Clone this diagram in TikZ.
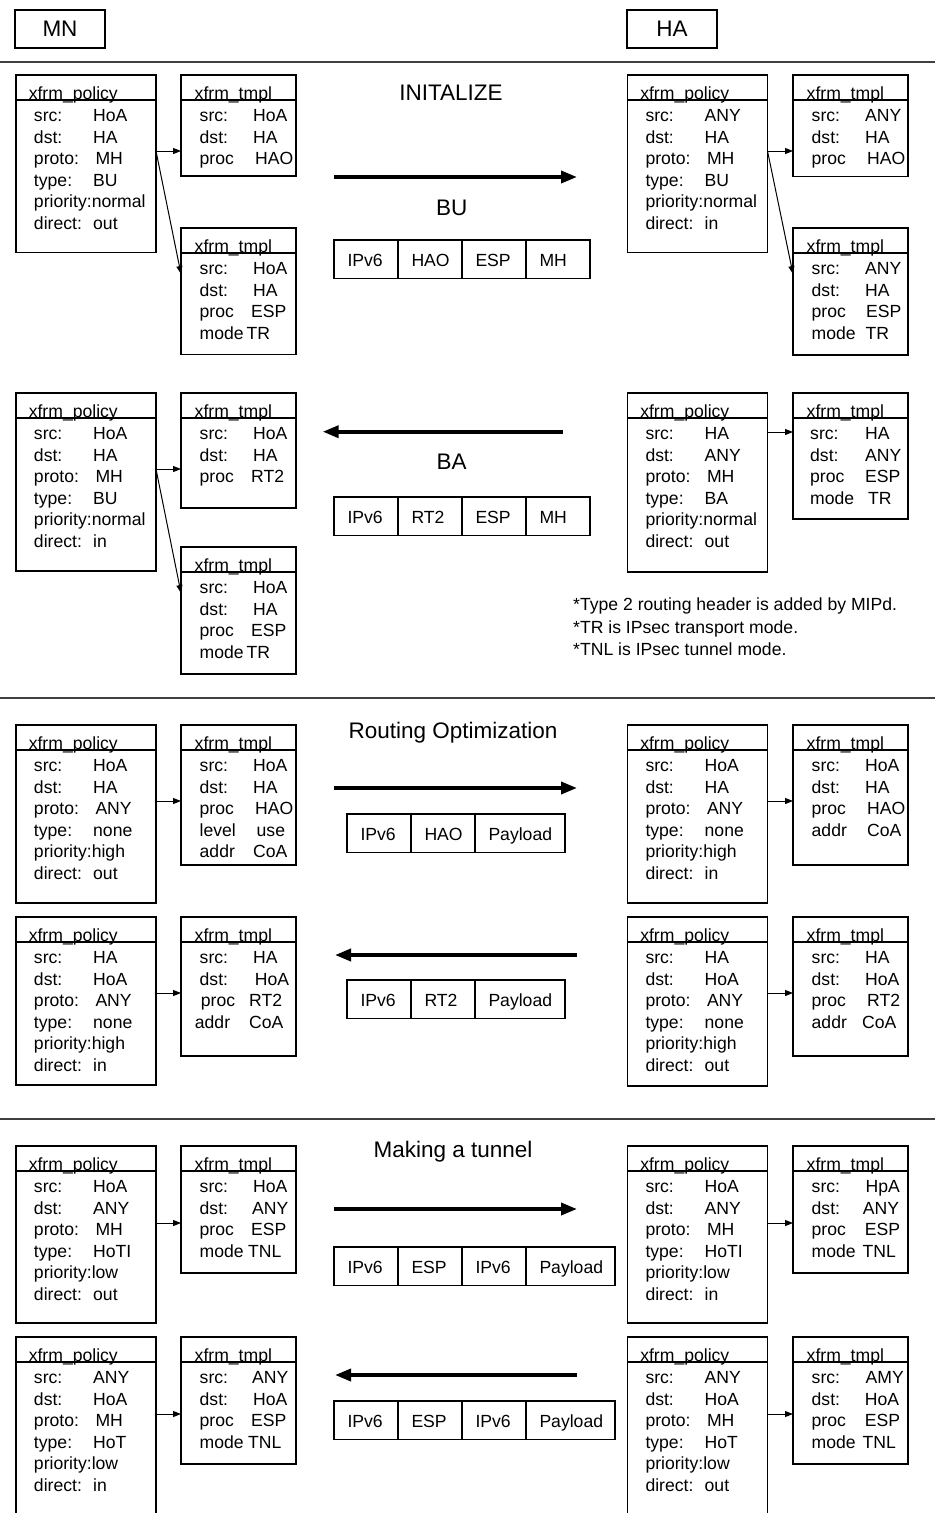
\documentclass[tikz,border=0pt]{standalone}
\usepackage{fontspec}
\setmainfont{Liberation Sans}
\usetikzlibrary{calc,arrows.meta}
\newcommand\bodyfont{\fontsize{17.6pt}{21.6pt}\selectfont}
\newcommand\headfont{\fontsize{22.5pt}{27pt}\selectfont}
\tikzset{
  frame/.style={draw=black, line width=1.2pt, inner sep=0pt, outer sep=0pt, rectangle, anchor=north west},
  txt/.style={anchor=base west, inner sep=0pt, font=\bodyfont},
  head/.style={anchor=base, inner sep=0pt, font=\headfont},
  bigarrow/.style={line width=3.6pt, -{Triangle[length=16pt,width=12pt]}},
  link/.style={line width=1pt, -{Triangle[length=8pt,width=6pt]}},
  rule/.style={line width=1.2pt, draw=black!75},
  pcell/.style={draw=black, line width=1.2pt, anchor=north west, inner sep=0pt, outer sep=0pt,
    minimum height=38.5pt, text height=14pt, text depth=0pt, font=\bodyfont},
  namebox/.style={draw=black, line width=1.2pt, anchor=north west, inner sep=0pt, outer sep=0pt,
    minimum width=90pt, minimum height=38pt, font=\headfont},
}
% box with a title bar: name, x, y, width, height, title, title indent
\newcommand\xbox[7]{%
  \node[frame, minimum width=#4pt, minimum height=#5pt] (#1) at (#2,#3) {};
  \draw[line width=1.2pt] ($(#1.north west)+(0,25)$) -- ($(#1.north east)+(0,25)$);
  \node[txt] (#1-title) at ($(#1.north west)+(#7,24.5)$) {#6};
}
% rows of a box: label indent / value indent / label / value
\newcommand\xrows[2]{%
  \foreach \lx/\vx/\lab/\val [count=\n] in {#2} {
    \pgfmathsetmacro\ry{46.5+(\n-1)*21.6}
    \node[txt] (#1-l\n) at ($(#1.north west)+(\lx,\ry)$) {\lab};
    \node[txt] (#1-v\n) at ($(#1.north west)+(\vx,\ry)$) {\val};
  }
}
\newcommand\polrows[7]{\xrows{#1}{17.8/77/src:/#2, 17.8/77/dst:/#3, 17.8/79.3/proto:/#4,
  17.8/77/type:/#5, 17.8/75.6/priority:/#6, 17.8/77/direct:/#7}}
\newcommand\polbox[4]{\xbox{#1}{#2}{#3}{140}{#4}{xfrm\_policy}{12.6}}
\newcommand\tmplbox[4]{\xbox{#1}{#2}{#3}{115}{#4}{xfrm\_tmpl}{13.5}}
\newcommand\cellt[2]{\hbox to #1pt{\hskip13.5pt #2\hfil}}

\begin{document}
\begin{tikzpicture}[x=1pt, y=-1pt]
\clip (0,0) rectangle (935,1513);

% end points
\node[namebox] (mn) at (15,10) {MN};
\node[namebox] (ha) at (627,10) {HA};

% section rules
\draw[rule] (0,62) -- (935,62);
\draw[rule] (0,698) -- (935,698);
\draw[rule] (0,1119) -- (935,1119);

%% ---------------- INITALIZE: BU ----------------
\node[head] (t1) at (451,100) {INITALIZE};
\polbox{mnP1}{16}{75}{177.5}
\polrows{mnP1}{HoA}{HA}{MH}{BU}{normal}{out}
\tmplbox{mnT1}{181}{75}{101}
\xrows{mnT1}{18.5/72/src:/HoA, 18.5/72/dst:/HA, 18.5/74/proc/HAO}
\tmplbox{mnT2}{181}{228}{126.5}
\xrows{mnT2}{18.5/72/src:/HoA, 18.5/72/dst:/HA, 18.5/70/proc/ESP, 18.5/65.5/mode/TR}
\draw[link] ($(mnP1.north east)+(0,76)$) -- ($(mnT1.north west)+(0,76)$);
\draw[link] ($(mnP1.north east)+(0,76)$) -- ($(mnT2.north west)+(0,46)$);

\polbox{haP1}{627.5}{75}{177.5}
\polrows{haP1}{ANY}{HA}{MH}{BU}{normal}{in}
\tmplbox{haT1}{793}{75}{101.5}
\xrows{haT1}{18.5/72/src:/ANY, 18.5/72/dst:/HA, 18.5/74/proc/HAO}
\tmplbox{haT2}{793}{228}{127}
\xrows{haT2}{18.5/72/src:/ANY, 18.5/72/dst:/HA, 18.5/73/proc/ESP, 18.5/72.5/mode/TR}
\draw[link] ($(haP1.north east)+(0,76)$) -- ($(haT1.north west)+(0,76)$);
\draw[link] ($(haP1.north east)+(0,76)$) -- ($(haT2.north west)+(0,46)$);

\coordinate (bus) at (334,177);
\coordinate (bue) at (577,177);
\draw[bigarrow] (bus) -- (bue);
\node[head] (bu) at (451.7,215) {BU};
\node[pcell] (bu1) at (334,240) {\cellt{64}{IPv6}};
\node[pcell] (bu2) at (bu1.north east) {\cellt{64}{HAO}};
\node[pcell] (bu3) at (bu2.north east) {\cellt{64}{ESP}};
\node[pcell] (bu4) at (bu3.north east) {\cellt{64}{MH}};

%% ---------------- BA ----------------
\polbox{mnP2}{16}{393}{178}
\polrows{mnP2}{HoA}{HA}{MH}{BU}{normal}{in}
\tmplbox{mnT3}{181}{393}{115}
\xrows{mnT3}{18.5/72/src:/HoA, 18.5/72/dst:/HA, 18.5/70/proc/RT2}
\tmplbox{mnT4}{181}{547}{127}
\xrows{mnT4}{18.5/72/src:/HoA, 18.5/72/dst:/HA, 18.5/70/proc/ESP, 18.5/65.5/mode/TR}
\draw[link] ($(mnP2.north east)+(0,76)$) -- ($(mnT3.north west)+(0,76)$);
\draw[link] ($(mnP2.north east)+(0,76)$) -- ($(mnT4.north west)+(0,46)$);

\polbox{haP2}{627.5}{393}{179}
\polrows{haP2}{HA}{ANY}{MH}{BA}{normal}{out}
\tmplbox{haT3}{793}{393}{126}
\xrows{haT3}{17/72/src:/HA, 17/72/dst:/ANY, 17/72/proc/ESP, 17/75/mode/TR}
\draw[link] ($(haP2.north east)+(0,39)$) -- ($(haT3.north west)+(0,39)$);

\coordinate (bas) at (563,431.7);
\coordinate (bae) at (322.7,431.7);
\draw[bigarrow] (bas) -- (bae);
\node[head] (ba) at (451.7,469) {BA};
\node[pcell] (ba1) at (334,497) {\cellt{64}{IPv6}};
\node[pcell] (ba2) at (ba1.north east) {\cellt{64}{RT2}};
\node[pcell] (ba3) at (ba2.north east) {\cellt{64}{ESP}};
\node[pcell] (ba4) at (ba3.north east) {\cellt{64}{MH}};

\node[txt] (n1) at (573,610.5) {*Type 2 routing header is added by MIPd.};
\node[txt] (n2) at (573,633) {*TR is IPsec transport mode.};
\node[txt] (n3) at (573,655.5) {*TNL is IPsec tunnel mode.};

%% ---------------- Routing Optimization ----------------
\node[head] (t2) at (453,738.5) {Routing Optimization};
\polbox{mnP3}{16}{725}{178}
\polrows{mnP3}{HoA}{HA}{ANY}{none}{high}{out}
\tmplbox{mnT5}{181}{725}{140}
\xrows{mnT5}{18.5/72/src:/HoA, 18.5/72/dst:/HA, 18.5/74/proc/HAO, 18.5/75.5/level/use, 18.5/72/addr/CoA}
\draw[link] ($(mnP3.north east)+(0,76)$) -- ($(mnT5.north west)+(0,76)$);

\polbox{mnP4}{16}{917}{168}
\polrows{mnP4}{HA}{HoA}{ANY}{none}{high}{in}
\tmplbox{mnT6}{181}{917}{139}
\xrows{mnT6}{18.5/72/src:/HA, 18.5/73.7/dst:/HoA, 19.7/68/proc/RT2, 13.7/68/addr/CoA}
\draw[link] ($(mnP4.north east)+(0,76)$) -- ($(mnT6.north west)+(0,76)$);

\polbox{haP3}{627.5}{725}{178}
\polrows{haP3}{HoA}{HA}{ANY}{none}{high}{in}
\tmplbox{haT5}{793}{725}{140}
\xrows{haT5}{18.5/72/src:/HoA, 18.5/72/dst:/HA, 18.5/74/proc/HAO, 18.5/74/addr/CoA}
\draw[link] ($(haP3.north east)+(0,76)$) -- ($(haT5.north west)+(0,76)$);

\polbox{haP4}{627.5}{917}{169}
\polrows{haP4}{HA}{HoA}{ANY}{none}{high}{out}
\tmplbox{haT6}{793}{917}{139}
\xrows{haT6}{18.5/72/src:/HA, 18.5/72/dst:/HoA, 18.5/74/proc/RT2, 18.5/69/addr/CoA}
\draw[link] ($(haP4.north east)+(0,76)$) -- ($(haT6.north west)+(0,76)$);

\coordinate (ros) at (334,788);
\coordinate (roe) at (577,788);
\draw[bigarrow] (ros) -- (roe);
\node[pcell] (ro1) at (347,814) {\cellt{64}{IPv6}};
\node[pcell] (ro2) at (ro1.north east) {\cellt{64}{HAO}};
\node[pcell] (ro3) at (ro2.north east) {\cellt{90}{Payload}};

\coordinate (rbs) at (577,955);
\coordinate (rbe) at (335,955);
\draw[bigarrow] (rbs) -- (rbe);
\node[pcell] (rb1) at (347,980) {\cellt{64}{IPv6}};
\node[pcell] (rb2) at (rb1.north east) {\cellt{64}{RT2}};
\node[pcell] (rb3) at (rb2.north east) {\cellt{90}{Payload}};

%% ---------------- Making a tunnel ----------------
\node[head] (t3) at (453,1157) {Making a tunnel};
\polbox{mnP5}{16}{1146}{177}
\polrows{mnP5}{HoA}{ANY}{MH}{HoTI}{low}{out}
\tmplbox{mnT7}{181}{1146}{127}
\xrows{mnT7}{18.5/72/src:/HoA, 18.5/71/dst:/ANY, 18.5/70/proc/ESP, 18.5/67/mode/TNL}
\draw[link] ($(mnP5.north east)+(0,77)$) -- ($(mnT7.north west)+(0,77)$);

\polbox{mnP6}{16}{1337}{250}
\polrows{mnP6}{ANY}{HoA}{MH}{HoT}{low}{in}
\tmplbox{mnT8}{181}{1337}{127}
\xrows{mnT8}{18.5/71/src:/ANY, 18.5/72/dst:/HoA, 18.5/70/proc/ESP, 18.5/67/mode/TNL}
\draw[link] ($(mnP6.north east)+(0,77)$) -- ($(mnT8.north west)+(0,77)$);

\polbox{haP5}{627.5}{1146}{177}
\polrows{haP5}{HoA}{ANY}{MH}{HoTI}{low}{in}
\tmplbox{haT7}{793}{1146}{127}
\xrows{haT7}{18.5/72.4/src:/HpA, 18.5/69.7/dst:/ANY, 18.5/71.7/proc/ESP, 18.5/69.4/mode/TNL}
\draw[link] ($(haP5.north east)+(0,77)$) -- ($(haT7.north west)+(0,77)$);

\polbox{haP6}{627.5}{1337}{250}
\polrows{haP6}{ANY}{HoA}{MH}{HoT}{low}{out}
\tmplbox{haT8}{793}{1337}{127}
\xrows{haT8}{18.5/72.4/src:/AMY, 18.5/71.7/dst:/HoA, 18.5/71.7/proc/ESP, 18.5/69.4/mode/TNL}
\draw[link] ($(haP6.north east)+(0,77)$) -- ($(haT8.north west)+(0,77)$);

\coordinate (tus) at (334,1209);
\coordinate (tue) at (577,1209);
\draw[bigarrow] (tus) -- (tue);
\node[pcell] (tu1) at (334,1247) {\cellt{64}{IPv6}};
\node[pcell] (tu2) at (tu1.north east) {\cellt{64}{ESP}};
\node[pcell] (tu3) at (tu2.north east) {\cellt{64}{IPv6}};
\node[pcell] (tu4) at (tu3.north east) {\cellt{89}{Payload}};

\coordinate (tbs) at (577,1375);
\coordinate (tbe) at (335,1375);
\draw[bigarrow] (tbs) -- (tbe);
\node[pcell] (tb1) at (334,1401) {\cellt{64}{IPv6}};
\node[pcell] (tb2) at (tb1.north east) {\cellt{64}{ESP}};
\node[pcell] (tb3) at (tb2.north east) {\cellt{64}{IPv6}};
\node[pcell] (tb4) at (tb3.north east) {\cellt{89}{Payload}};
\end{tikzpicture}
\end{document}
